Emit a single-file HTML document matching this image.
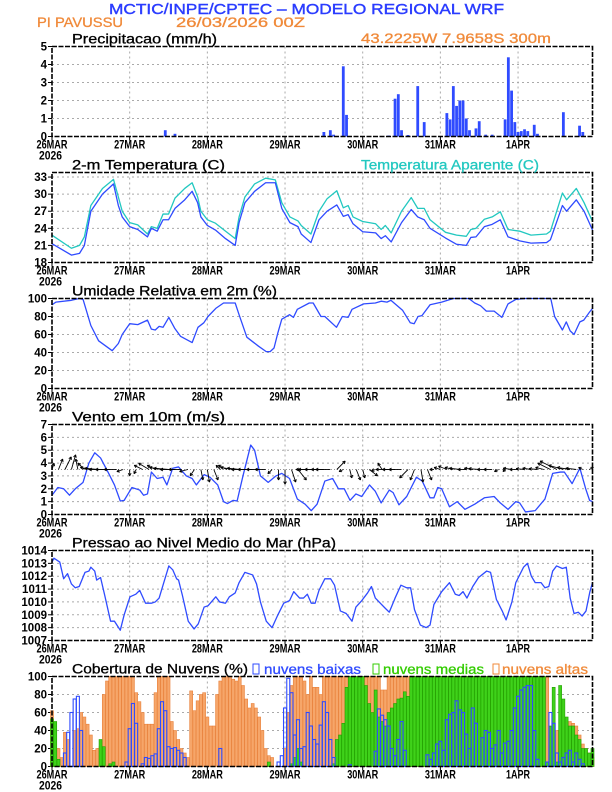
<!DOCTYPE html>
<html><head><meta charset="utf-8">
<style>
html,body{margin:0;padding:0;background:#fff;}
svg{display:block;font-family:"Liberation Sans",sans-serif;}
</style></head>
<body>
<svg id="chart" width="612" height="792" viewBox="0 0 612 792" xmlns="http://www.w3.org/2000/svg">
<text x="109" y="14" font-size="15" fill="#2a3cff" stroke="#2a3cff" stroke-width="0.4" textLength="395" lengthAdjust="spacingAndGlyphs">MCTIC/INPE/CPTEC – MODELO REGIONAL WRF</text>
<text x="37" y="27" font-size="14" fill="#f08a3a" stroke="#f08a3a" stroke-width="0.3" textLength="86" lengthAdjust="spacingAndGlyphs">PI PAVUSSU</text>
<text x="176" y="27" font-size="14" fill="#f08a3a" stroke="#f08a3a" stroke-width="0.3" textLength="129" lengthAdjust="spacingAndGlyphs">26/03/2026 00Z</text>
<text x="361" y="43" font-size="14" fill="#f08a3a" stroke="#f08a3a" stroke-width="0.3" textLength="190" lengthAdjust="spacingAndGlyphs">43.2225W 7.9658S 300m</text>
<g id="g"></g>
</svg>
<script>
// ---------- data ----------
const precipHours=[35,38,84,86,87,90,91,104,106,107,108,110,113,115,122,123,124,125,126,127,128,129,131,132,134,136,140,141,142,143,144,145,146,147,149,150,158,163,164];
const precipVals=[0.35,0.15,0.25,0.35,0.1,3.9,1.2,0.05,2.1,2.35,0.35,0.08,2.8,0.8,1.3,0.95,2.8,1.7,2.0,2.0,1.0,0.35,0.45,0.85,0.1,0.1,0.95,4.4,2.55,0.8,0.25,0.3,0.4,0.3,0.65,0.15,1.35,0.6,0.25];

const tempHours=[0,6,8.5,10,12,15.6,19,20.5,21.7,24,26.5,29.5,30.7,32.5,34.3,36,38,41,43.3,45,46,48,50.5,53.6,56.6,57.8,59.6,62.6,66,69,71,73.5,76,77,80,82.5,85,88,90,91.5,93,96,100,101.7,103,104.8,108,111,113,115,116.8,121.6,125,128,129.4,131,133.6,136,138.5,140.9,144.5,148,152.8,154,157.7,159,162,164.4,167];
const tempVals=[21.3,19.3,19.6,21,27,30,31.8,28,26,24.3,23.8,22.5,24,23.5,25.5,25.5,27.5,29,30.5,28.5,26,24.5,23.7,22.2,21,25,28.5,30.5,32,32,27.5,25,24.3,23,21.5,25.5,27,28.1,26.1,26.4,24.8,23.4,23.2,22.2,22.7,21.6,25,27.3,26,25.5,24,22.3,21.2,21,22.4,22.5,24.3,24.7,25.5,22.5,21.8,21.4,21.5,22,28,27,29,27,23.7];
const appVals=[22.8,20.5,21,22.5,28,31,32.6,29.5,27,25,24.6,23,24.3,24,26.5,26.5,29.3,31,32,29.5,27,25.5,24.9,23.5,22.2,26,29.5,31.8,32.8,32.5,28.5,26,25.3,24.5,23,27,29.2,30.6,27.6,28,26,25.2,24.8,23.8,24.5,23.2,27,29.4,27.5,27.5,25.5,23.3,22.8,22.6,23.8,24,25.6,26,26.9,23.8,23.5,22.8,23,23.5,30.2,29,31,28.5,25.2];

const rhHours=[0,1.2,6,8.4,9.6,12,14.4,18.6,20.5,21.7,24,26.5,29.5,30.7,31.9,33.1,34.3,36.1,37.9,39.7,43.3,45.1,46.9,48.2,50.6,53,56.6,57.8,60.2,63.8,66.2,67.4,68.6,69.8,71,73.4,74.6,75.8,79.5,80.7,83.1,84.3,87.9,89.7,91.5,92.7,96.3,99.9,101.7,103.5,104.7,108.3,110.7,111.9,113.1,114.3,116.8,120.4,124,128.8,130.6,132.4,134.2,136.6,139,140.9,143.3,146.3,152.9,154.1,155.3,157.7,158.9,160.1,161.3,163.1,164.3,166.1,167];
const rhVals=[93,96,98,100,99,70,53,42,50,60,72,71,76,66,65,69,68,79,67,58,51,68,73,80,89,95,95,82,57,47,41,41,45,62,77,82,79,88,95,95,80,80,68,80,79,88,94,95,97,96,98,87,73,72,80,81,93,96,100,100,95,92,86,86,79,94,99,100,100,100,80,65,74,64,60,74,76,85,89];

const windHours=[0,1.8,3.6,5.4,7.2,9.6,11.4,13.2,15,17.5,19.3,21.1,22.3,24.7,27.1,28.3,29.5,30.7,32.5,34.3,35.5,37.3,39.1,41.5,43.3,44.6,47,48.8,51.2,53,54.2,56,57.2,59,61.4,62.6,64.4,66.8,69.2,71,73.4,75.8,78.2,80.1,81.9,84.3,86.7,88.5,90.3,92.1,93.9,95.7,98.1,99.9,101.7,104.2,105.4,107.2,109.6,112.6,114.4,116.8,118,119.2,120.4,122.8,125.2,127.6,130.6,133.6,136.6,138.5,140.9,143.3,144.5,146.3,149.3,152.3,154.7,157.1,158.3,160.7,163.1,164.9,166.1,167];
const windVals=[1.5,2.1,2.0,1.5,2.0,2.5,4.0,4.8,4.4,3.2,2.3,1.05,1.1,2.1,1.9,1.5,1.6,3.3,2.8,2.9,2.3,3.6,3.7,3.0,2.8,2.3,3.1,2.9,2.3,1.0,0.85,1.1,1.05,3.0,5.4,5.0,3.0,2.5,3.0,3.2,2.8,1.2,0.8,0.3,0.8,2.6,2.8,2.0,2.0,1.1,1.6,1.4,2.3,1.8,0.9,1.9,1.7,0.75,1.4,2.9,2.6,1.3,1.3,2.1,2.0,0.6,1.0,0.4,0.8,1.3,1.4,0.9,0.4,1.0,0.9,0.2,0.3,1.2,3.2,3.3,3.3,2.4,3.6,2.0,1.1,1.0];
// wind vectors every 2 h (u east, v north, m/s)
const vecU=[0.5,1,1.5,1,-0.5,-1.5,-2.5,-3,-3.5,-3.5,-3,-1.5,0,-0.5,-2,-2.5,-2,-3,-3.5,-3.5,-3,-2,-1,0.5,0.5,1,-1,-2,-3,-3,-3.5,-3.5,-3,-2.5,-1,0,0,1,2,-2,-3,-3,-3,-3.5,2,-1,0.5,1,0.5,2,-1,-1,-3,-3,-3,-2,-1,0.5,1,-1,-1.5,-2,-2,-2.5,-2,-2,-2.5,-2,-2,-1,-0.5,-2,-2,-2,-2,-2,-2,-3,-4,-3.5,-3,-2.5,-1,1];
const vecV=[1.5,2.5,3,3.5,2.5,1.5,0.5,0.3,0,0,0,-0.5,-1.5,-1,1,1.5,1,0.5,0.3,0,0,-0.5,-1.5,-2.5,-3,-2.5,1,1,0.5,0.3,0,0,0,0,-1,-2.5,-3.5,-3,-2.5,0,0,0,0,0,2,-0.5,-2,-2.5,-2,-1.5,-0.3,1.5,0,0,0,-2,-2.5,-3,-2.5,0,0.5,0.8,0.5,0.3,0,0.3,0.2,0,0,-0.5,-0.5,0.3,0,0.2,0.3,0.2,0.5,1.5,2,1,0.5,0.3,0.5,0.5];

const presHours=[0,0.6,2.4,3.6,4.8,6,7.2,8.4,10.2,11.4,12,13.2,13.8,15,16.3,18.1,19.3,21.1,22.3,24.1,25.9,27.1,28.9,30.7,31.9,33.1,34.3,36.1,37.3,38.5,39.1,40.3,42.1,43.9,45.2,47,48.2,50.6,51.8,53.6,54.8,56.6,57.8,59.6,62,63.2,64.4,66.2,68,69.8,71.6,73.4,74.7,76.5,77.7,78.9,80.1,81.3,82.5,84.3,86.1,87.3,89.1,90.9,92.7,93.9,95.7,97.5,98.7,99.9,103,104.2,106,107.8,109.6,110.8,112,113.8,115.6,116.8,118,120.4,122.8,124.6,125.8,127,128.2,130,131.8,134.3,135.5,137.3,139.1,140.3,142.1,143.3,145.7,146.9,148.1,149.3,151.1,152.3,153.5,154.7,155.9,157.7,158.9,160.1,161.3,162.6,163.8,165,166.2,167];
const presVals=[1013.1,1013.4,1013.1,1011.8,1012.2,1011.4,1011.1,1011.2,1012.3,1012.4,1012.7,1012.4,1011.7,1011.9,1010.5,1008.5,1008.5,1007.8,1009,1010.4,1010.6,1010.9,1009.9,1009.9,1010,1010.3,1011.3,1012.8,1012.5,1011.8,1011.7,1010.5,1008.5,1007.9,1008.3,1009.6,1009.7,1010.4,1010,1009.9,1010.4,1010.7,1011.5,1012.3,1012.1,1011.4,1010,1008.5,1008,1009,1009.9,1010.1,1010.8,1010.3,1010.3,1010.6,1009.9,1009.9,1010.9,1011.8,1011.8,1011.3,1009.3,1009.1,1008.5,1009.6,1010.1,1010.7,1011.2,1010.3,1009.5,1009.2,1010.3,1011.3,1011.1,1011.1,1009.4,1008.2,1008,1008.2,1009.8,1010.8,1011.5,1010.6,1010.5,1010.8,1010.3,1011.2,1011.9,1012.4,1012.3,1010.2,1009.3,1008.6,1010,1011.5,1012.7,1013,1012,1011.5,1011.5,1011.1,1011.2,1012.4,1012.8,1012.6,1012.7,1010.3,1009.1,1009.2,1008.9,1009.3,1010.8,1011.5];

// hourly cloud cover h0..h167
const cloudHigh=[62,40,20,10,38,30,0,40,42,60, 55,47,35,18,20,22,80,95,100,100, 100,100,100,100,100,100,82,72,60,47, 47,47,82,100,100,100,100,50,40,30, 20,15,10,84,62,73,80,82,55,45, 45,80,95,100,100,100,97,95,100,90, 75,65,70,65,55,40,20,12,10,0, 0,0,20,60,90,100,100,100,95,80, 100,88,88,80,100,100,100,100,100,100, 100,100,100,100,100,100,100,100,100,100, 100,100,85,85,100,100,100,100,100,100, 100,100,100,100,100,100,100,100,100,100, 100,100,100,100,100,100,100,100,100,100, 100,100,100,100,100,100,100,100,100,100, 100,100,100,100,100,100,100,100,100,100, 100,100,100,100,10,20,40,40,45,40, 50,48,45,35,25,20,15,10];
const cloudMid=[53,50,8,0,0,0,0,0,0,0, 0,0,0,0,0,30,22,0,3,5, 0,0,0,0,0,0,0,0,0,0, 0,0,0,0,0,0,0,0,0,0, 0,0,0,0,0,0,0,0,0,0, 0,0,0,0,0,0,0,0,0,0, 0,0,0,0,0,0,0,5,0,0, 0,0,0,0,3,10,20,5,0,0, 0,0,0,0,0,0,0,3,30,35, 48,88,100,100,100,100,100,90,70,60, 85,55,50,45,60,65,70,75,76,83, 78,100,100,100,100,100,100,100,100,100, 100,100,100,100,100,100,100,100,100,100, 100,100,100,100,100,100,100,100,100,100, 100,100,100,100,100,100,100,100,100,100, 100,100,100,5,45,88,5,90,75,55, 45,45,35,30,20,20,15,20];
const cloudLow=[0,0,0,0,15,38,60,75,78,40, 0,0,0,0,0,0,0,0,0,0, 0,0,0,5,42,70,48,0,3,10, 9,12,14,42,72,62,22,20,21,18, 15,10,0,0,0,0,0,0,0,0, 0,0,20,0,0,0,0,0,0,0, 0,0,0,0,0,0,0,0,0,0, 5,12,65,98,82,35,52,20,22,60, 45,30,25,46,72,60,30,10,0,0, 0,0,2,0,0,0,0,0,0,0, 17,64,57,52,45,20,12,30,50,18, 0,0,0,0,0,0,13,8,15,25, 28,18,52,58,60,73,63,60,36,20, 65,48,0,32,40,38,20,24,40,15, 26,28,40,65,78,85,88,90,90,40, 8,0,0,5,60,48,15,5,10,15, 18,5,15,8,3,0,0,0];

const dayLabels=["26MAR","27MAR","28MAR","29MAR","30MAR","31MAR","1APR"];
const tempTicks=[18,21,24,27,30,33];
const rhTicks=[0,20,40,60,80,100];
const windTicks=[0,1,2,3,4,5,6,7];
const presTicks=[1007,1008,1009,1010,1011,1012,1013,1014];
const precipTicks=[0,1,2,3,4,5];
const cloudTicks=[0,20,40,60,80,100];

// ---------- drawing ----------
const NS="http://www.w3.org/2000/svg";
const G=document.getElementById('g');
const X0=52, X1=592.5, HMAX=167, PH=90;
const xs=h=>X0+h*(X1-X0)/HMAX;
const BLUE="#2f4bff", CYAN="#22c8c0";
function el(tag,attrs,parent){const e=document.createElementNS(NS,tag);for(const k in attrs)e.setAttribute(k,attrs[k]);(parent||G).appendChild(e);return e;}
function panel(name,top,ymin,ymax,ticks,title){
  const g=el('g',{});
  
  
  const ys=v=>top+PH-(v-ymin)/(ymax-ymin)*PH;
  ticks.forEach(t=>{
    if(t===ymin||t===ymax)return;
    const l=el('line',{x1:X0,x2:X1,y1:ys(t),y2:ys(t),stroke:"#aaa","stroke-width":1,"stroke-dasharray":"2 3"},g);
    
    
  });
  for(let d=1;d<7;d++){
    const l=el('line',{x1:xs(d*24),x2:xs(d*24),y1:top,y2:top+PH,stroke:"#aaa","stroke-width":1,"stroke-dasharray":"2 3"},g);
    
    
  }
  ticks.forEach(t=>{
    el('line',{x1:X0-4,x2:X0,y1:ys(t),y2:ys(t),stroke:"#000","stroke-width":1},g);
    const tx=el('text',{x:47,y:ys(t)+4,"font-size":11.5,"text-anchor":"end",fill:"#000","font-weight":"bold"},g);
    tx.textContent=t;
    
    
  });
  dayLabels.forEach((lb,i)=>{
    el('line',{x1:xs(i*24),x2:xs(i*24),y1:top+PH,y2:top+PH+4,stroke:"#000","stroke-width":1},g);
    const tx=el('text',{x:xs(i*24),y:top+PH+12,"font-size":11.5,"font-weight":"bold","text-anchor":"middle",fill:"#000",textLength:lb.length>4?31:24,lengthAdjust:"spacingAndGlyphs"},g);
    tx.textContent=lb;
    
    
  });
  const yr=el('text',{x:39,y:top+PH+23,"font-size":11.5,"font-weight":"bold",fill:"#000",textLength:23,lengthAdjust:"spacingAndGlyphs"},g);
  yr.textContent="2026";
  
  
  if(title){
    const tt=el('text',{x:72,y:top-3,"font-size":13.5,fill:"#000",stroke:"#000","stroke-width":0.3,textLength:title[1],lengthAdjust:"spacingAndGlyphs"},g);
    tt.textContent=title[0];
    
    
  }
  const content=el('g',{},g);
  return {g:content,frameParent:g,ys,top};
}
function frame(p,name){
  const r=el('rect',{x:X0,y:p.top,width:X1-X0,height:PH,fill:"none",stroke:"#000","stroke-width":1.6,"stroke-dasharray":"5 1.5"},p.frameParent);
  
  
}
function line(p,hours,vals,color,name){
  const d=hours.map((h,i)=>(i?'L':'M')+xs(h).toFixed(2)+' '+p.ys(vals[i]).toFixed(2)).join(' ');
  const pa=el('path',{d,fill:"none",stroke:color,"stroke-width":1.3,"stroke-linejoin":"round"},p.g);
  
  
}

const pp=panel('precip',46.5,0,5,precipTicks,["Precipitacao (mm/h)",145]);
precipHours.forEach((h,i)=>{
  const y=pp.ys(precipVals[i]);
  const b=el('rect',{x:xs(h)-1.4,y,width:2.8,height:pp.ys(0)-y,fill:BLUE},pp.g);
  
  
});
frame(pp,'precip');

const tp=panel('temp',172.5,18,33.8,tempTicks,["2-m Temperatura (C)",153]);
line(tp,tempHours,appVals,CYAN,'apparent-temp-line');
line(tp,tempHours,tempVals,BLUE,'temp-line');
frame(tp,'temp');
const ta=el('text',{x:361,y:169.5,"font-size":13.5,fill:CYAN,stroke:CYAN,"stroke-width":0.3,textLength:178,lengthAdjust:"spacingAndGlyphs"});
ta.textContent="Temperatura Aparente (C)";



const rp=panel('rh',298.5,0,100,rhTicks,["Umidade Relativa em 2m (%)",205]);
line(rp,rhHours,rhVals,BLUE,'rh-line');
frame(rp,'rh');

const wp=panel('wind',424.5,0,7,windTicks,["Vento em 10m (m/s)",153]);
line(wp,windHours,windVals,BLUE,'wind-speed-line');
const base=wp.ys(3.5), SC=4.2;
vecU.forEach((u,i)=>{
  const v=vecV[i];
  const x0=xs(i*2), x1=x0+u*SC, y1=base-v*SC;
  const len=Math.hypot(x1-x0,y1-base);
  const a=el('g',{},wp.g);
  
  
  el('line',{x1:x0,y1:base,x2:x1,y2:y1,stroke:"#000","stroke-width":0.9},a);
  if(len>1){
    const ang=Math.atan2(y1-base,x1-x0);
    const hl=3;
    [0.5,-0.5].forEach(s=>{
      el('line',{x1:x1,y1:y1,x2:x1-hl*Math.cos(ang+s),y2:y1-hl*Math.sin(ang+s),stroke:"#000","stroke-width":0.9},a);
    });
  }
});
el('line',{x1:X0,x2:X1,y1:base,y2:base,stroke:"#000","stroke-width":0.4,"stroke-dasharray":"1 2"},wp.g);
frame(wp,'wind');

const prp=panel('pressure',550.5,1007,1014,presTicks,["Pressao ao Nivel Medio do Mar (hPa)",264]);
line(prp,presHours,presVals,BLUE,'pressure-line');
frame(prp,'pressure');

const cp=panel('cloud',676.5,0,100,cloudTicks,["Cobertura de Nuvens (%)",176]);
const bw=3.0;
function bars(arr,fill,stroke,name,sw){
  arr.forEach((v,h)=>{
    if(v<=0)return;
    const y=cp.ys(v);
    const b=el('rect',{x:xs(h)-bw/2,y,width:bw,height:cp.ys(0)-y,fill,stroke,"stroke-width":sw},cp.g);
    
    
  });
}
bars(cloudHigh,"#f6a66a","#e8803a","cloud-high-bar",0.6);
bars(cloudMid,"#3fd21a","#22a000","cloud-mid-bar",0.6);
bars(cloudLow,"none","#2f4bff","cloud-low-bar",1.1);
frame(cp,'cloud');
const legY=674;
[[253,BLUE,"nuvens baixas",264,97,'legend-low'],[373,"#33cc00","nuvens medias",383,101,'legend-mid'],[493,"#f08a3a","nuvens altas",502,86,'legend-high']].forEach(L=>{
  const r=el('rect',{x:L[0],y:legY-10,width:6,height:10,fill:"none",stroke:L[1],"stroke-width":1});
  
  
  const t=el('text',{x:L[3],y:legY,"font-size":13.5,fill:L[1],stroke:L[1],"stroke-width":0.3,textLength:L[4],lengthAdjust:"spacingAndGlyphs"});
  t.textContent=L[2];
  
  
});
</script>
</body></html>
